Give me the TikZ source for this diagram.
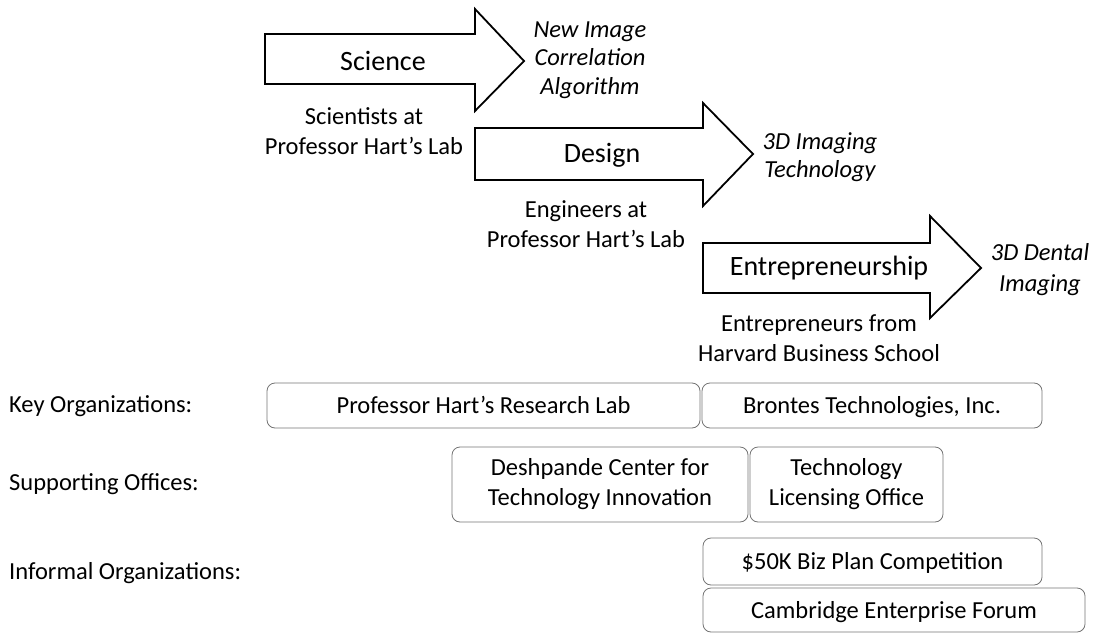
\documentclass[tikz,border=0pt]{standalone}
\usepackage{fontspec}
\setmainfont{Carlito}
\begin{document}
\begin{tikzpicture}[x=1pt,y=-1pt,
  bigarrow/.style={draw=black,line width=1.8pt,fill=white,line join=miter},
  stage/.style={font=\fontsize{28}{32}\selectfont,inner sep=0pt},
  outcome/.style={font=\fontsize{24.5}{28.5}\selectfont\itshape,align=center,inner sep=0pt},
  who/.style={font=\fontsize{24.5}{30}\selectfont,align=center,inner sep=0pt},
  rowlabel/.style={font=\fontsize{24.5}{28}\selectfont,anchor=west,inner sep=0pt},
  orgbox/.style={draw=black!55,line width=0.8pt,rounded corners=8pt,align=center,
    font=\fontsize{24.5}{30}\selectfont,inner sep=0pt},
  oneline/.style={execute at begin node={\rule[-6pt]{0pt}{28pt}}}
]
\useasboundingbox (0,0) rectangle (1100,634);

% arrows
\draw[bigarrow] (265,34) -- (475,34) -- (475,9) -- (524,61) -- (475,111) -- (475,84) -- (265,84) -- cycle;
\draw[bigarrow] (475,128) -- (703,128) -- (703,103) -- (753,154) -- (703,206) -- (703,180) -- (475,180) -- cycle;
\draw[bigarrow] (703,243) -- (930,243) -- (930,216) -- (981,268) -- (930,318) -- (930,293) -- (703,293) -- cycle;

\node[stage] (sci) at (383,61) {Science};
\node[stage] (des) at (602,155) {Design};
\node[stage] (ent) at (829,268) {Entrepreneurship};

\node[outcome] (o1) at (590,60) {New Image\\Correlation\\Algorithm};
\node[outcome] (o2) at (820,157) {3D Imaging\\Technology};
\node[outcome,font=\fontsize{24.5}{31}\selectfont\itshape] (o3) at (1040,270) {3D Dental\\Imaging};

\node[who] (w1) at (364,131) {Scientists at\\Professor Hart’s Lab};
\node[who] (w2) at (586,224) {Engineers at\\Professor Hart’s Lab};
\node[who] (w3) at (819,338) {Entrepreneurs from\\Harvard Business School};

\node[rowlabel] (l1) at (9,406) {Key Organizations:};
\node[rowlabel] (l2) at (9,484) {Supporting Offices:};
\node[rowlabel] (l3) at (9,573) {Informal Organizations:};

% boxes
\node[orgbox,oneline,minimum width=433,minimum height=45] (b1) at (483.5,405.5) {Professor Hart’s Research Lab};
\node[orgbox,oneline,minimum width=340,minimum height=45] (b2) at (872,405.5) {Brontes Technologies, Inc.};
\node[orgbox,minimum width=296,minimum height=75] (b3) at (600,484.5) {Deshpande Center for\\Technology Innovation};
\node[orgbox,minimum width=193,minimum height=75] (b4) at (846.5,484.5) {Technology\\Licensing Office};
\node[orgbox,oneline,minimum width=339,minimum height=47] (b5) at (872.5,561.5) {\$50K Biz Plan Competition};
\node[orgbox,oneline,minimum width=382,minimum height=44] (b6) at (894,610) {Cambridge Enterprise Forum};
\end{tikzpicture}
\end{document}
